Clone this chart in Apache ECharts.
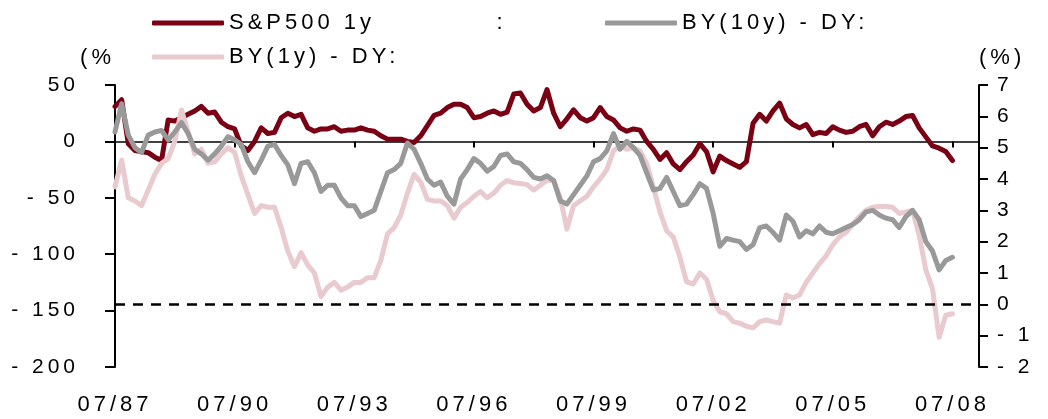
<!DOCTYPE html>
<html>
<head>
<meta charset="utf-8">
<script src="https://cdn.jsdelivr.net/npm/echarts@6/dist/echarts.min.js"></script>
<style>
  html, body { margin: 0; padding: 0; background: #fff; }
  #chart_spread { width: 1048px; height: 419px; }
</style>
</head>
<body>
<div id="chart_spread"></div>
<script>
// bi-monthly points, 07/87 .. 07/08 (axis runs on to 03/09)
const sp500 = [
  31, 37, -2, -8, -9, -10, -14, -17, 19, 18,
  21, 24, 27, 31, 25, 26, 17, 13, 11, -4,
  -8, 0, 12, 7, 8, 21, 25, 22, 24, 12,
  9, 11, 11, 13, 9, 10, 10, 12, 10, 9,
  5, 2, 2, 2, 0, -1, 5, 14, 23, 25,
  30, 33, 33, 30, 21, 22, 25, 27, 24, 26,
  42, 43, 33, 27, 30, 46, 25, 13, 20, 28,
  21, 18, 21, 30, 22, 19, 12, 9, 11, 10,
  0, -7, -16, -10, -20, -25, -18, -12, -2, -9,
  -27, -13, -17, -20, -23, -18, 16, 24, 18, 27,
  34, 20, 15, 12, 15, 6, 8, 7, 13, 10,
  8, 9, 13, 15, 5, 13, 17, 15, 18, 22,
  23, 12, 4, -4, -6, -9, -17
];
const by10y = [
  5.5, 6.4, 5.4, 5.0, 4.85, 5.4, 5.5, 5.55, 5.25, 5.5,
  5.8, 5.45, 4.95, 4.8, 4.6, 4.8, 5.05, 5.35, 5.25, 5.1,
  4.55, 4.2, 4.6, 5.05, 5.1, 4.75, 4.45, 3.85, 4.5, 4.55,
  4.2, 3.6, 3.8, 3.8, 3.4, 3.15, 3.15, 2.8, 2.9, 3.0,
  3.6, 4.2, 4.3, 4.5, 5.15, 4.95, 4.5, 4.0, 3.8, 3.9,
  3.45, 3.2, 4.0, 4.3, 4.65, 4.5, 4.25, 4.4, 4.75, 4.8,
  4.55, 4.5, 4.3, 4.05, 4.0, 4.1, 3.95, 3.3, 3.2, 3.5,
  3.8, 4.1, 4.55, 4.65, 4.9, 5.45, 4.95, 5.2, 5.0, 4.75,
  4.2, 3.65, 3.7, 4.05, 3.6, 3.15, 3.2, 3.5, 3.85, 3.7,
  2.9, 1.85, 2.1, 2.05, 2.0, 1.75, 1.9, 2.45, 2.5, 2.3,
  2.05, 2.85, 2.65, 2.15, 2.35, 2.25, 2.5, 2.3, 2.25, 2.35,
  2.45, 2.55, 2.7, 2.95, 3.0, 2.85, 2.75, 2.7, 2.45, 2.8,
  3.0, 2.7, 2.0, 1.7, 1.1, 1.4, 1.5
];
const by1y = [
  3.75, 4.6, 3.4, 3.3, 3.15, 3.65, 4.15, 4.5, 4.65, 5.2,
  6.2, 5.5, 4.8, 4.95, 4.5, 4.55, 4.8, 5.0, 4.85, 4.1,
  3.5, 2.9, 3.15, 3.1, 3.1, 2.45, 1.7, 1.2, 1.65, 1.25,
  1.0, 0.25, 0.55, 0.7, 0.45, 0.55, 0.7, 0.7, 0.85, 0.85,
  1.4, 2.25, 2.45, 2.85, 3.55, 4.15, 3.9, 3.35, 3.3, 3.3,
  3.15, 2.75, 3.1, 3.25, 3.45, 3.6, 3.4, 3.55, 3.8, 3.95,
  3.88, 3.86, 3.82, 3.65, 3.8, 3.95, 3.95, 3.4, 2.4, 3.15,
  3.3, 3.45, 3.75, 4.0, 4.3, 4.9, 5.05, 4.95, 5.0, 4.9,
  4.5, 3.75, 2.95, 2.35, 2.15, 1.5, 0.72, 0.65, 1.0, 0.8,
  0.12, -0.24, -0.3, -0.55, -0.6, -0.7, -0.75, -0.55, -0.5, -0.55,
  -0.6, 0.3, 0.2, 0.3, 0.7, 1.0, 1.3, 1.55, 1.9, 2.15,
  2.3, 2.55, 2.8, 3.0, 3.1, 3.12, 3.12, 3.1, 2.9, 2.95,
  3.0, 2.2, 1.1, 0.5, -1.05, -0.35, -0.3
];
const names = ['S&P500 1y', 'BY(10y) - DY:', 'BY(1y) - DY:'];
const colors = ['#7a0014', '#999999', '#e8cacf'];

// month labels 07/87 .. 03/09, every 2 months
const months = [];
for (let k = 0; k <= 130; k++) {
  const m = 6 + 2 * k;
  const mm = m % 12 + 1;
  const yy = (1987 + Math.floor(m / 12)) % 100;
  months.push(String(mm).padStart(2, '0') + '/' + String(yy).padStart(2, '0'));
}
const labelStep = 18; // 3 years

// excel-style wide text
const fontDesc = Object.getOwnPropertyDescriptor(CanvasRenderingContext2D.prototype, 'font');
Object.defineProperty(CanvasRenderingContext2D.prototype, 'font', {
  get() { return fontDesc.get.call(this); },
  set(v) { fontDesc.set.call(this, v); this.letterSpacing = '4px'; }
});

const font = 'Liberation Sans';
const negFmt = v => (v < 0 ? '- ' + (-v) : String(v));

let myChart = echarts.init(document.getElementById('chart_spread'));

let legendText = { fontSize: 22, color: '#000', fontFamily: font };
let option = {
  animation: false,
  backgroundColor: '#fff',
  legend: [{
    data: [names[0]],
    left: 147,
    top: 5,
    icon: 'roundRect',
    itemWidth: 72,
    itemHeight: 5,
    textStyle: legendText,
    formatter: n => n + '            :'
  }, {
    data: [names[1]],
    left: 600,
    top: 5,
    icon: 'roundRect',
    itemWidth: 72,
    itemHeight: 5,
    textStyle: legendText
  }, {
    data: [names[2]],
    left: 147,
    top: 39,
    icon: 'roundRect',
    itemWidth: 72,
    itemHeight: 5,
    textStyle: legendText
  }],
  grid: {
    left: 115,
    right: 69,
    top: 85,
    bottom: 52,
    outerBoundsMode: 'none'
  },
  xAxis: [{
    type: 'category',
    data: months,
    boundaryGap: false,
    axisLine: { show: false, onZero: false },
    axisTick: { show: false },
    splitLine: { show: false },
    axisLabel: {
      interval: i => i % labelStep === 0,
      margin: 25,
      fontSize: 22,
      color: '#000',
      fontFamily: font
    }
  }, {
    // zero line with its ticks
    type: 'category',
    data: months,
    boundaryGap: false,
    position: 'bottom',
    axisLine: { onZero: true, onZeroAxisIndex: 0, lineStyle: { color: '#000', width: 1.5 } },
    axisTick: { interval: i => i % labelStep === 0, length: 6, lineStyle: { color: '#000', width: 2 } },
    axisLabel: { show: false },
    splitLine: { show: false }
  }],
  yAxis: [{
    type: 'value',
    min: -200,
    max: 50,
    interval: 50,
    name: '(%',
    nameLocation: 'end',
    nameGap: 27,
    nameTextStyle: { fontSize: 22, color: '#000', fontFamily: font, align: 'right', verticalAlign: 'middle' },
    axisLine: { show: true, lineStyle: { color: '#000', width: 2 } },
    axisTick: { show: true, length: 10, lineStyle: { color: '#000', width: 2 } },
    splitLine: { show: false },
    axisLabel: { formatter: negFmt, margin: 36, fontSize: 21, color: '#000', fontFamily: font }
  }, {
    type: 'value',
    position: 'right',
    min: -2,
    max: 7,
    interval: 1,
    name: '(%)',
    nameLocation: 'end',
    nameGap: 27,
    nameTextStyle: { fontSize: 22, color: '#000', fontFamily: font, align: 'left', verticalAlign: 'middle' },
    axisLine: { show: true, lineStyle: { color: '#000', width: 2 } },
    axisTick: { show: true, length: 9, lineStyle: { color: '#000', width: 2 } },
    splitLine: { show: false },
    axisLabel: { formatter: negFmt, margin: 18, fontSize: 21, color: '#000', fontFamily: font }
  }],
  series: [{
    name: names[0],
    type: 'line',
    yAxisIndex: 0,
    data: sp500,
    symbol: 'none',
    color: colors[0],
    lineStyle: { width: 5, color: colors[0], join: 'round', cap: 'round' }
  }, {
    name: names[2],
    type: 'line',
    yAxisIndex: 1,
    data: by1y,
    symbol: 'none',
    color: colors[2],
    lineStyle: { width: 5, color: colors[2], join: 'round', cap: 'round' },
    markLine: {
      silent: true,
      symbol: 'none',
      label: { show: false },
      lineStyle: { color: '#000', width: 2.5, type: [10, 8] },
      data: [{ yAxis: 0 }]
    }
  }, {
    name: names[1],
    type: 'line',
    yAxisIndex: 1,
    data: by10y,
    symbol: 'none',
    color: colors[1],
    lineStyle: { width: 5, color: colors[1], join: 'round', cap: 'round' }
  }]
};

myChart.setOption(option, true);
window.addEventListener('resize', () => {
  myChart.resize();
});
</script>
</body>
</html>
